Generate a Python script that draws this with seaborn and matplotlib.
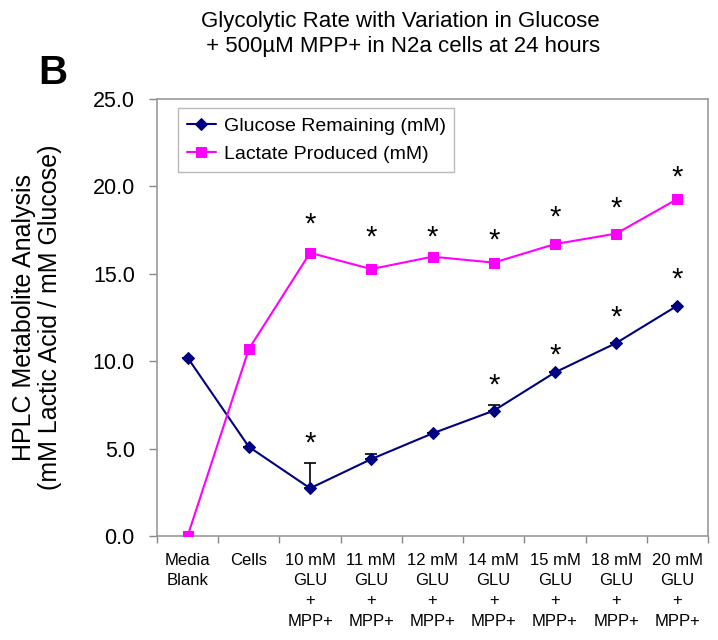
import numpy as np
import pandas as pd
import matplotlib
matplotlib.use("Agg")
import matplotlib.pyplot as plt
import seaborn as sns

# categories along the x axis
categories = ["Media\nBlank", "Cells",
              "10 mM\nGLU\n+\nMPP+", "11 mM\nGLU\n+\nMPP+", "12 mM\nGLU\n+\nMPP+",
              "14 mM\nGLU\n+\nMPP+", "15 mM\nGLU\n+\nMPP+", "18 mM\nGLU\n+\nMPP+",
              "20 mM\nGLU\n+\nMPP+"]

# series values (mM)
glucose = [10.2, 5.1, 2.73, 4.40, 5.87, 7.17, 9.36, 11.04, 13.18]
glucose_err = [0.0, 0.0, 1.46, 0.29, 0.0, 0.32, 0.0, 0.0, 0.0]
lactate = [0.0, 10.7, 16.2, 15.27, 15.98, 15.64, 16.7, 17.3, 19.28]

# heights of the significance stars
glucose_star = [np.nan, np.nan, 5.3, np.nan, np.nan, 8.6, 10.3, 12.5, 14.65]
lactate_star = [np.nan, np.nan, 17.8, 17.05, 17.05, 16.93, 18.2, 18.76, 20.48]

glu_label = "Glucose Remaining (mM)"
lac_label = "Lactate Produced (mM)"

def plot_glycolytic_rate():
    sns.set_theme(style="white")
    plt.rcParams['font.family'] = ['Liberation Sans', 'DejaVu Sans']
    plt.rcParams['text.color'] = 'black'
    plt.rcParams['axes.labelcolor'] = 'black'

    pos = np.arange(len(categories))
    df = pd.DataFrame({'pos': pos, 'glucose': glucose, 'lactate': lactate})

    fig = plt.figure(figsize=(7.18, 6.4), dpi=100)
    ax = fig.add_axes([0.2187, 0.1625, 0.7674, 0.6828])

    # error bars (upper only) on glucose
    ax.errorbar(df['pos'], df['glucose'],
                yerr=[np.zeros(len(glucose_err)), glucose_err],
                fmt='none', ecolor='black', elinewidth=1.2, capsize=4, capthick=1.2, zorder=2)

    sns.lineplot(data=df, x='pos', y='glucose', ax=ax, color='#000080',
                 marker='D', markersize=6, markeredgecolor='#000080',
                 linewidth=1.5, label=glu_label, zorder=3)
    sns.lineplot(data=df, x='pos', y='lactate', ax=ax, color='#FF00FF',
                 marker='s', markersize=7, markeredgecolor='#FF00FF',
                 linewidth=1.5, label=lac_label, zorder=3)

    # significance stars
    for x, s in zip(pos, glucose_star):
        if not np.isnan(s):
            ax.text(x, s, '*', ha='center', va='center', fontsize=21, color='black')
    for x, s in zip(pos, lactate_star):
        if not np.isnan(s):
            ax.text(x, s, '*', ha='center', va='center', fontsize=21, color='black')

    # axes
    ax.set_xlim(-0.5, len(categories) - 0.5)
    ax.set_ylim(0, 25)
    ax.set_yticks(np.arange(0, 25.1, 5))
    ax.yaxis.set_major_formatter(matplotlib.ticker.FormatStrFormatter('%.1f'))
    ax.set_xticks(pos)
    ax.set_xticklabels(categories, fontsize=12, linespacing=1.45, va='top')
    ax.set_xticks(np.arange(-0.5, len(categories), 1), minor=True)
    ax.tick_params(axis='x', which='major', length=0, pad=12, labelcolor='black')
    ax.tick_params(axis='x', which='minor', length=5, width=1, color='#888888', direction='out', bottom=True)
    ax.tick_params(axis='y', length=6, width=1, color='#888888', direction='out', left=True,
                   labelsize=15.5, pad=10, labelcolor='black')
    for sp in ax.spines.values():
        sp.set_color('#999999')
        sp.set_linewidth(1.2)

    ax.set_xlabel('')
    ax.set_ylabel('HPLC Metabolite Analysis\n(mM Lactic Acid / mM Glucose)',
                  fontsize=18, linespacing=1.1)
    ax.yaxis.set_label_coords(-0.172, 0.5)

    leg = ax.legend(loc='upper left', bbox_to_anchor=(0.038, 0.979), borderaxespad=0,
                    fontsize=14, handlelength=1.5, fancybox=False, frameon=True,
                    edgecolor='#aaaaaa', labelspacing=0.55, handletextpad=0.4,
                    borderpad=0.45)
    leg.get_frame().set_linewidth(1.0)
    for t in leg.get_texts():
        t.set_color('black')

    # title and panel letter
    fig.text(0.557, 1 - 34 / 640,
             'Glycolytic Rate with Variation in Glucose\n + 500\u00b5M MPP+ in N2a cells at 24 hours',
             ha='center', va='center', fontsize=16, linespacing=1.3)
    fig.text(53 / 718, 1 - 73 / 640, 'B', ha='center', va='center', fontsize=29, fontweight='bold')

    plt.savefig('out.png', dpi=100)

if __name__ == "__main__":
    plot_glycolytic_rate()
